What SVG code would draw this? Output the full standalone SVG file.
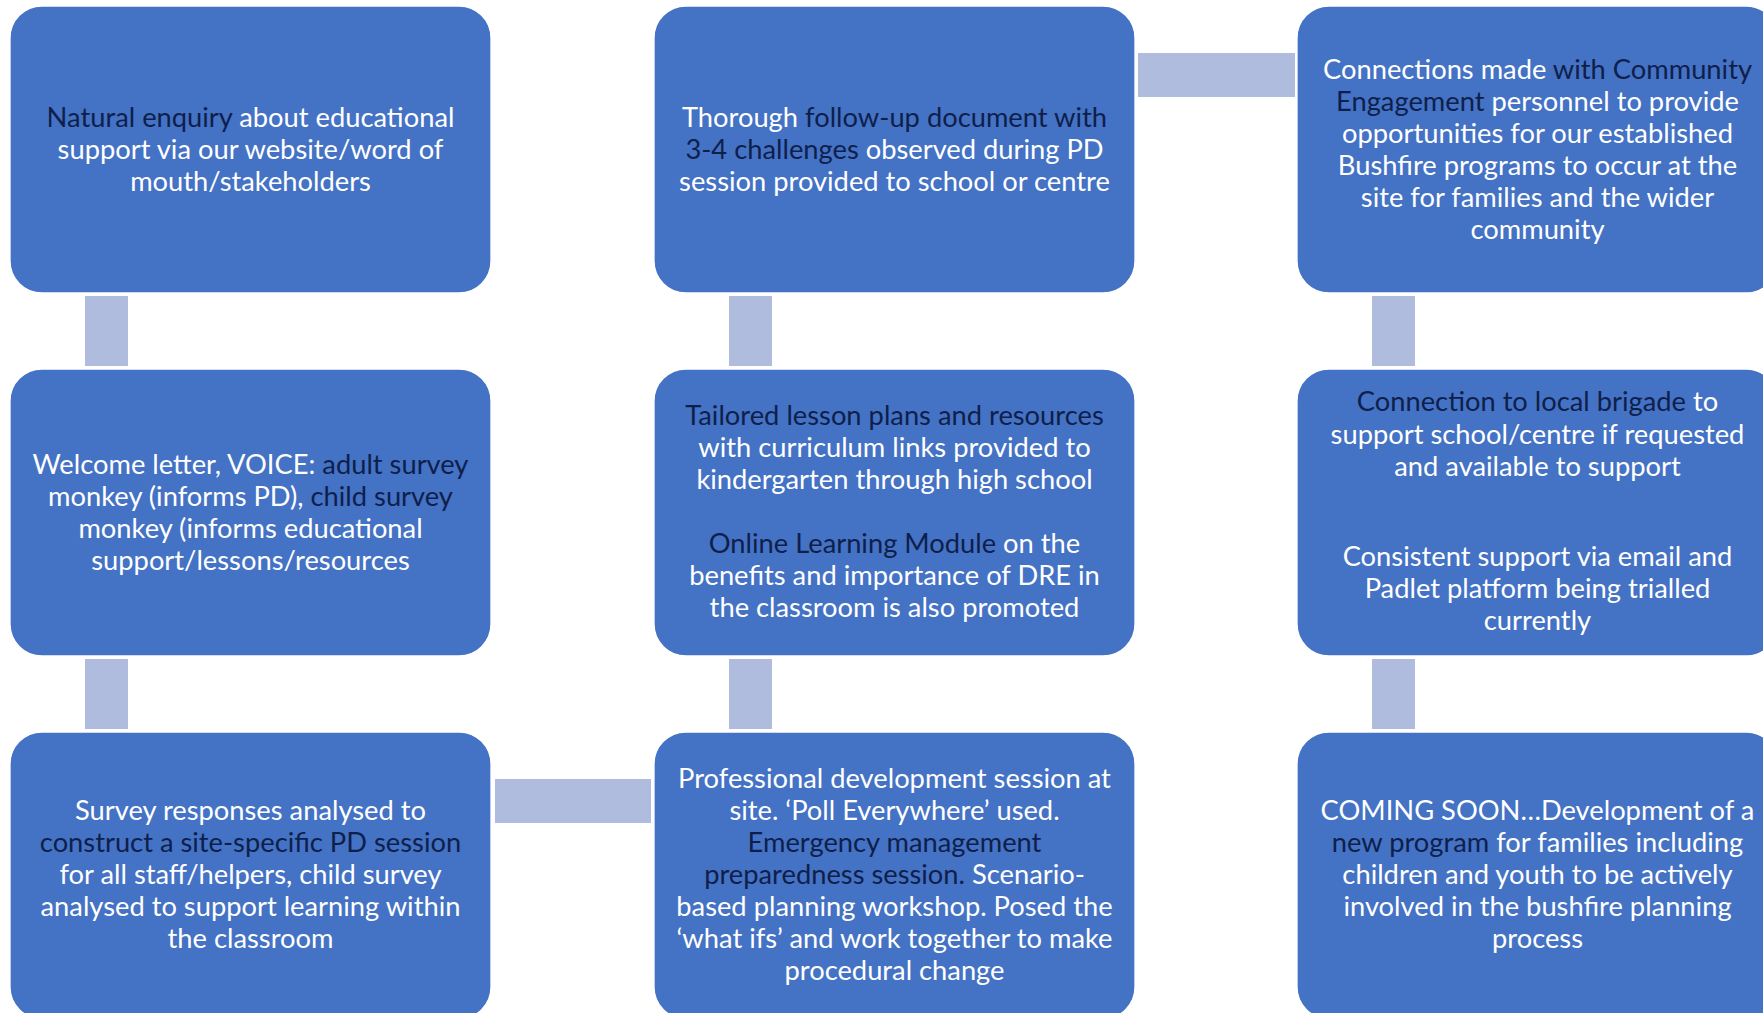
<svg xmlns="http://www.w3.org/2000/svg" width="1763" height="1013" viewBox="0 0 1763 1013">
<style>
.box{fill:#4472C4;stroke:#ffffff;stroke-width:1.3}
.conn{fill:#AFBCDE}
text{font-family:Lato,"Open Sans","Liberation Sans",sans-serif;font-size:27.3px;fill:#ffffff;text-anchor:middle}
.d{fill:#0F1F4C}
</style>
<rect width="1763" height="1013" fill="#ffffff"/>
<g id="connectors">
<rect class="conn" x="85" y="296" width="43" height="70"/>
<rect class="conn" x="85" y="659" width="43" height="70"/>
<rect class="conn" x="495" y="779" width="156" height="44"/>
<rect class="conn" x="729" y="659" width="43" height="70"/>
<rect class="conn" x="729" y="296" width="43" height="70"/>
<rect class="conn" x="1138" y="53" width="157" height="44"/>
<rect class="conn" x="1372" y="296" width="43" height="70"/>
<rect class="conn" x="1372" y="659" width="43" height="70"/>
</g>
<g id="n1">
<rect class="box" x="10" y="6" width="481" height="287" rx="32"/>
<text x="250.5" y="127"><tspan class="d">Natural enquiry</tspan> about educational</text>
<text x="250.5" y="159">support via our website/word of</text>
<text x="250.5" y="191">mouth/stakeholders</text>
</g>
<g id="n2">
<rect class="box" x="10" y="369" width="481" height="287" rx="32"/>
<text x="250.5" y="474">Welcome letter, VOICE: <tspan class="d">adult survey</tspan></text>
<text x="250.5" y="506">monkey (informs PD), <tspan class="d">child survey</tspan></text>
<text x="250.5" y="538">monkey (informs educational</text>
<text x="250.5" y="570">support/lessons/resources</text>
</g>
<g id="n3">
<rect class="box" x="10" y="732" width="481" height="287" rx="32"/>
<text x="250.5" y="820">Survey responses analysed to</text>
<text x="250.5" y="852" class="d">construct a site-specific PD session</text>
<text x="250.5" y="884">for all staff/helpers, child survey</text>
<text x="250.5" y="916">analysed to support learning within</text>
<text x="250.5" y="948">the classroom</text>
</g>
<g id="n4">
<rect class="box" x="654" y="732" width="481" height="287" rx="32"/>
<text x="894.5" y="788">Professional development session at</text>
<text x="894.5" y="820">site. ‘Poll Everywhere’ used.</text>
<text x="894.5" y="852" class="d">Emergency management</text>
<text x="894.5" y="884"><tspan class="d">preparedness session.</tspan> Scenario-</text>
<text x="894.5" y="916">based planning workshop. Posed the</text>
<text x="894.5" y="948">‘what ifs’ and work together to make</text>
<text x="894.5" y="980">procedural change</text>
</g>
<g id="n5">
<rect class="box" x="654" y="369" width="481" height="287" rx="32"/>
<text x="894.5" y="425" class="d">Tailored lesson plans and resources</text>
<text x="894.5" y="457">with curriculum links provided to</text>
<text x="894.5" y="489">kindergarten through high school</text>
<text x="894.5" y="553"><tspan class="d">Online Learning Module</tspan> on the</text>
<text x="894.5" y="585">benefits and importance of DRE in</text>
<text x="894.5" y="617">the classroom is also promoted</text>
</g>
<g id="n6">
<rect class="box" x="654" y="6" width="481" height="287" rx="32"/>
<text x="894.5" y="127">Thorough <tspan class="d">follow-up document with</tspan></text>
<text x="894.5" y="159"><tspan class="d">3-4 challenges</tspan> observed during PD</text>
<text x="894.5" y="191">session provided to school or centre</text>
</g>
<g id="n7">
<rect class="box" x="1297" y="6" width="481" height="287" rx="32"/>
<text x="1537.5" y="79">Connections made <tspan class="d">with Community</tspan></text>
<text x="1537.5" y="111"><tspan class="d">Engagement</tspan> personnel to provide</text>
<text x="1537.5" y="143">opportunities for our established</text>
<text x="1537.5" y="175">Bushfire programs to occur at the</text>
<text x="1537.5" y="207">site for families and the wider</text>
<text x="1537.5" y="239">community</text>
</g>
<g id="n8">
<rect class="box" x="1297" y="369" width="481" height="287" rx="32"/>
<text x="1537.5" y="411"><tspan class="d">Connection to local brigade</tspan> to</text>
<text x="1537.5" y="444">support school/centre if requested</text>
<text x="1537.5" y="476">and available to support</text>
<text x="1537.5" y="566">Consistent support via email and</text>
<text x="1537.5" y="598">Padlet platform being trialled</text>
<text x="1537.5" y="630">currently</text>
</g>
<g id="n9">
<rect class="box" x="1297" y="732" width="481" height="287" rx="32"/>
<text x="1537.5" y="820">COMING SOON…Development of a</text>
<text x="1537.5" y="852"><tspan class="d">new program</tspan> for families including</text>
<text x="1537.5" y="884">children and youth to be actively</text>
<text x="1537.5" y="916">involved in the bushfire planning</text>
<text x="1537.5" y="948">process</text>
</g>
</svg>
